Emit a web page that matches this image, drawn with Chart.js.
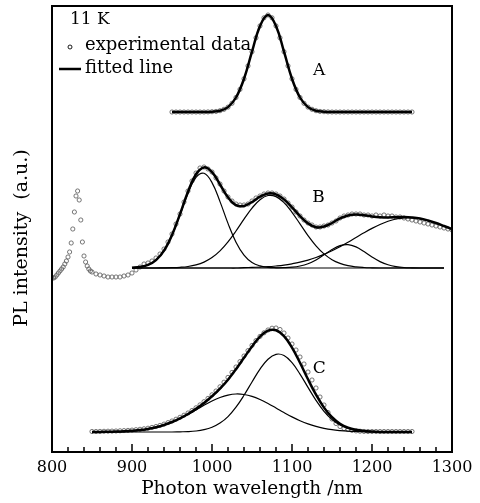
<!DOCTYPE html>
<html>
<head>
<meta charset="utf-8">
<script src="https://cdn.jsdelivr.net/npm/chart.js@4.4.0/dist/chart.umd.min.js"></script>
<style>
  html, body { margin: 0; padding: 0; background: #fff; }
  #plot { display: block; }
</style>
</head>
<body>
<canvas id="plot" width="480" height="503"></canvas>
<script>
// vertical offsets of the three stacked spectra (a.u.)
const offsetA = 340;
const offsetB = 184;
const offsetC = 20;

// ---- spectrum A ----
const aDataWave = [950,955,960,965,970,975,980,985,990,995,1000,1005,1010,1015,1020,1025,1030,1035,1040,1045,
  1050,1055,1060,1065,1070,1075,1080,1085,1090,1095,1100,1105,1110,1115,1120,1125,1130,1135,1140,1145,
  1150,1155,1160,1165,1170,1175,1180,1185,1190,1195,1200,1205,1210,1215,1220,1225,1230,1235,1240,1245,1250];
const aData = [0,0,0,0,0,0,0,0,0,0.1,0.3,0.6,1.3,2.7,4.9,8.7,14.5,22.6,33.2,46.1,
  60.3,74.2,86.1,94.2,97,94.2,86.1,74.2,60.3,46.1,33.2,22.6,14.5,8.7,4.9,2.7,1.3,0.6,0.3,0.1,
  0,0,0,0,0,0,0,0,0,0,0,0,0,0,0,0,0,0,0,0,0];
const aFitWave = [950,960,970,980,990,1000,1010,1020,1030,1040,1050,1060,1070,1080,1090,1100,
  1110,1120,1130,1140,1150,1160,1170,1180,1190,1200,1210,1220,1230,1240,1250];
const aFit = [0,0,0,0,0,0.3,1.3,4.9,14.5,33.2,60.3,86.1,97,86.1,60.3,33.2,14.5,4.9,1.3,0.3,0,0,0,0,0,0,0,0,0,0,0];

// ---- spectrum B ----
const bDataWave = [800,802,804,806,808,810,812,814,816,818,820,822,824,826,828,830,832,834,836,838,840,842,844,846,848,850,
  855,860,865,870,875,880,885,890,895,900,905,910,915,920,925,930,935,940,945,950,
  955,960,965,970,975,980,985,990,995,1000,1005,1010,1015,1020,1025,1030,1035,1040,1045,1050,
  1055,1060,1065,1070,1075,1080,1085,1090,1095,1100,1105,1110,1115,1120,1125,1130,1135,1140,1145,1150,
  1155,1160,1165,1170,1175,1180,1185,1190,1195,1200,1205,1210,1215,1220,1225,1230,1235,1240,1245,1250,
  1255,1260,1265,1270,1275,1280,1285,1290,1295,1300];
const bData = [-10,-10,-9,-7,-5,-3,-1,1,4,7,11,16,25,39,56,72,77,68,48,26,12,6,2,-1,-3,-4,
  -6,-7,-8,-9,-9,-9,-9,-8,-7,-5,-2,1,4,5,7,10,14,19,26,34,
  44,54,66,77,87,95,100,101,99,96,90,84,77,71,67,64,63,63,64,67,
  70,72,74,75,75,74,72,69,65,61,56,52,48,45,43,41,41,42,43,45,
  47,50,52,53,54,54,54,53,53,52,53,52,53,52,52,51,51,50,49,48,
  47,46,45,44,43,42,41,40,39,38];
const bFitWave = [900,910,920,930,940,950,960,970,980,990,1000,1010,1020,1030,1040,1050,1060,1070,1080,1090,
  1100,1110,1120,1130,1140,1150,1160,1170,1180,1190,1200,1210,1220,1230,1240,1250,1260,1270,1280,1290,1300];
const bFit = [0.3,1.1,3.1,7.9,17.4,33.0,53.9,76.3,93.7,100.6,95.8,83.5,70.7,62.8,62.1,66.0,71.3,74.5,73.7,68.6,
  60.7,51.9,44.6,40.8,41.5,45.0,49.6,52.5,53.4,52.8,51.6,50.8,50.6,50.8,50.9,50.5,49.5,47.5,45.0,42.0,39.0];
// fitted components of B, on bFitWave (900-1290)
const bPeak1 = [0.3,1.1,3.1,7.9,17.3,32.7,53.2,74.8,90.6,94.7,85.4,66.4,44.6,25.8,12.9,5.5,2.1,0.7,0.2,0,
  0,0,0,0,0,0,0,0,0,0,0,0,0,0,0,0,0,0,0,0];
const bPeak2 = [0,0,0,0,0.1,0.3,0.7,1.5,3.1,5.9,10.4,17.1,26.1,37.0,48.8,59.9,68.3,72.5,71.4,65.4,
  55.7,44.1,32.4,22.2,14.1,8.3,4.6,2.3,1.1,0.5,0.2,0,0,0,0,0,0,0,0,0];
const bPeak3 = [0,0,0,0,0,0,0,0,0,0,0,0,0,0,0,0,0,0,0.1,0.3,
  0.8,2.0,4.3,8.1,13.2,18.5,22.4,23.4,21.1,16.4,11.0,6.4,3.2,1.4,0.5,0.2,0,0,0,0];
const bPeak4 = [0,0,0,0,0,0,0,0,0,0,0,0,0,0,0.4,0.6,0.9,1.3,2.0,2.9,
  4.2,5.8,7.9,10.5,13.7,17.3,21.4,25.8,30.5,35.2,39.6,43.5,46.7,49.0,50.2,50.2,49.5,47.5,45.0,42.0];

// ---- spectrum C ----
const cDataWave = [850,855,860,865,870,875,880,885,890,895,900,905,910,915,920,925,930,935,940,945,
  950,955,960,965,970,975,980,985,990,995,1000,1005,1010,1015,1020,1025,1030,1035,1040,1045,
  1050,1055,1060,1065,1070,1075,1080,1085,1090,1095,1100,1105,1110,1115,1120,1125,1130,1135,1140,1145,
  1150,1155,1160,1165,1170,1175,1180,1185,1190,1195,1200,1205,1210,1215,1220,1225,1230,1235,1240,1245,1250];
const cData = [0.5,0.5,0.6,0.7,0.8,0.9,1.0,1.2,1.4,1.6,1.9,2.3,2.7,3.2,3.8,4.6,5.5,6.6,7.9,9.4,
  11.0,12.8,14.7,16.8,19.0,21.5,24.2,27.1,30.3,33.6,37.2,41.0,45.2,49.8,54.6,59.6,65.0,70.4,76.0,81.4,
  86.6,91.4,95.6,99.2,102.0,103.8,104.0,102.5,99.0,94.0,88.0,82.0,75.0,68.0,60.0,52.0,44.0,35.0,27.0,19.5,
  13.0,8.5,5.5,3.5,2.4,1.6,1.1,0.8,0.6,0.5,0.5,0.5,0.5,0.5,0.5,0.5,0.5,0.5,0.5,0.5,0.5];
const cFitWave = [850,860,870,880,890,900,910,920,930,940,950,960,970,980,990,1000,1010,1020,1030,1040,
  1050,1060,1070,1080,1090,1100,1110,1120,1130,1140,1150,1160,1170,1180,1190,1200,1210,1220,1230,1240,1250];
const cFit = [0.1,0.1,0.2,0.4,0.7,1.2,1.9,3.1,4.7,7.0,10.0,13.7,18.0,23.1,29.0,35.7,43.4,52.3,62.8,74.2,
  85.6,95.4,101.3,101.7,95.9,84.4,69.2,52.7,37.3,24.4,14.8,8.3,4.4,2.2,1.0,0.4,0.1,0,0,0,0];
const cPeak1 = [0.1,0.1,0.2,0.4,0.7,1.2,1.9,3.1,4.7,7.0,9.9,13.5,17.6,22.1,26.7,31.0,34.5,36.9,38.0,37.5,
  35.6,32.5,28.5,24.0,19.4,15.1,11.3,8.1,5.6,3.7,2.3,1.4,0.8,0.5,0.3,0.1,0,0,0,0,0];
const cPeak2 = [0,0,0,0,0,0,0,0,0,0,0,0.2,0.4,1.0,2.3,4.7,8.9,15.4,24.8,36.7,
  50.0,62.9,72.8,77.7,76.5,69.3,57.9,44.6,31.7,20.7,12.5,6.9,3.6,1.7,0.7,0.3,0.1,0,0,0,0];

const xTicks = [800, 900, 1000, 1100, 1200, 1300];
const xMinorStep = 20;

const pts = (wave, vals, off) => vals.map((v, i) => ({ x: wave[i], y: off + v }));

const dataSet = (wave, vals, off) => ({
  data: pts(wave, vals, off),
  showLine: false,
  pointStyle: 'circle',
  pointRadius: 2.1,
  pointBorderWidth: 0.8,
  pointBorderColor: '#555',
  pointBackgroundColor: 'rgba(0,0,0,0)',
  order: 2
});

const lineSet = (wave, vals, off, width) => ({
  data: pts(wave, vals, off),
  showLine: true,
  borderColor: '#000',
  borderWidth: width,
  pointRadius: 0,
  tension: 0.4,
  fill: false,
  order: 1
});

// frame, inward ticks, legend and curve labels
const decor = {
  id: 'decor',
  afterDraw(chart) {
    const ctx = chart.ctx;
    const a = chart.chartArea;
    const x = chart.scales.x;
    const y = chart.scales.y;
    const y0 = y.getPixelForValue(0);
    ctx.save();
    ctx.strokeStyle = '#000';
    ctx.fillStyle = '#000';

    // ticks pointing into the plot from the bottom axis
    ctx.lineWidth = 1.5;
    ctx.beginPath();
    for (let i = 1; i < 25; i++) {
      const v = 800 + i * xMinorStep;
      const px = x.getPixelForValue(v);
      const len = (i % 5 === 0) ? 7 : 4;
      ctx.moveTo(px, y0 - 1);
      ctx.lineTo(px, y0 - 1 - len);
    }
    ctx.stroke();

    ctx.lineWidth = 2;
    ctx.strokeRect(a.left, a.top, a.right - a.left, a.bottom - a.top);

    ctx.textBaseline = 'middle';
    ctx.textAlign = 'left';
    ctx.font = '17px "DejaVu Serif"';
    ctx.fillText('11 K', a.left + 18, a.top + 14);
    ctx.font = '18px "DejaVu Serif"';
    ctx.fillText('experimental data', a.left + 33, a.top + 39);
    ctx.fillText('fitted line', a.left + 33, a.top + 62);
    ctx.lineWidth = 0.9;
    ctx.beginPath();
    ctx.arc(a.left + 18, a.top + 41, 2, 0, Math.PI * 2);
    ctx.stroke();
    ctx.lineWidth = 2.5;
    ctx.beginPath();
    ctx.moveTo(a.left + 7, a.top + 63);
    ctx.lineTo(a.left + 29, a.top + 63);
    ctx.stroke();

    ctx.font = '17px "DejaVu Serif"';
    ctx.textAlign = 'center';
    ctx.fillText('A', x.getPixelForValue(1134), y.getPixelForValue(381));
    ctx.fillText('B', x.getPixelForValue(1133), y.getPixelForValue(254));
    ctx.fillText('C', x.getPixelForValue(1134), y.getPixelForValue(83));
    ctx.restore();
  }
};

Chart.defaults.font.family = '"DejaVu Serif", serif';
Chart.defaults.color = '#000';

new Chart(document.getElementById('plot'), {
  type: 'scatter',
  data: {
    datasets: [
      dataSet(aDataWave, aData, offsetA),
      dataSet(bDataWave, bData, offsetB),
      dataSet(cDataWave, cData, offsetC),
      lineSet(aFitWave, aFit, offsetA, 2.5),
      lineSet(bFitWave, bFit, offsetB, 2.5),
      lineSet(bFitWave, bPeak1, offsetB, 1.2),
      lineSet(bFitWave, bPeak2, offsetB, 1.2),
      lineSet(bFitWave, bPeak3, offsetB, 1.2),
      lineSet(bFitWave, bPeak4, offsetB, 1.2),
      lineSet(cFitWave, cFit, offsetC, 2.5),
      lineSet(cFitWave, cPeak1, offsetC, 1.2),
      lineSet(cFitWave, cPeak2, offsetC, 1.2)
    ]
  },
  options: {
    responsive: false,
    animation: false,
    devicePixelRatio: 1,
    layout: { padding: { left: 0, right: 28, top: 6, bottom: 0 } },
    plugins: { legend: { display: false }, tooltip: { enabled: false } },
    scales: {
      x: {
        type: 'linear',
        min: 800,
        max: 1300,
        afterBuildTicks: (s) => { s.ticks = xTicks.map(v => ({ value: v })); },
        afterFit: (s) => { s.height = 51; },
        ticks: {
          font: { size: 16 }, color: '#000', padding: 6, maxRotation: 0, autoSkip: false,
          callback: (v) => String(v)
        },
        grid: { display: false, drawTicks: false },
        border: { display: false },
        title: { display: true, text: 'Photon wavelength /nm', font: { size: 18.5 }, color: '#000', padding: { top: 0, bottom: 3 } }
      },
      y: {
        min: 0,
        max: 446,
        afterFit: (s) => { s.width = 52; },
        ticks: { display: false },
        grid: { display: false, drawTicks: false },
        border: { display: false },
        title: { display: true, text: 'PL intensity  (a.u.)   ', font: { size: 19 }, color: '#000', padding: { top: 11, bottom: 0 } }
      }
    }
  },
  plugins: [decor]
});
</script>
</body>
</html>
